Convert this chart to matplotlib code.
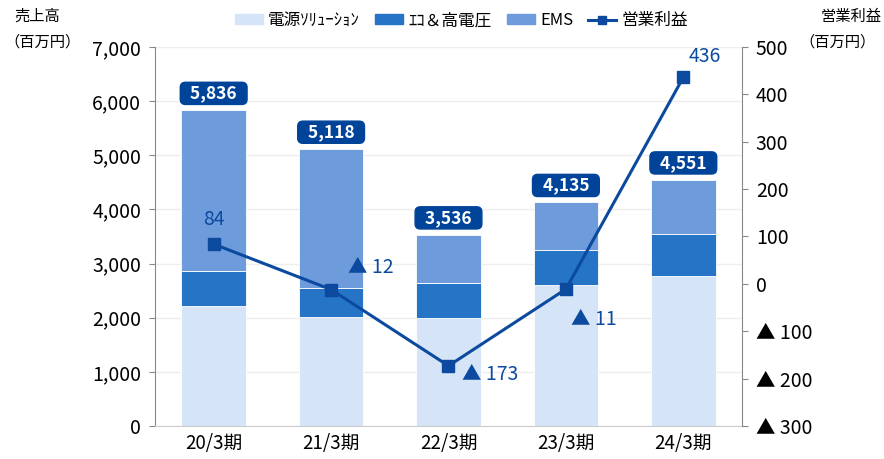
import matplotlib.pyplot as plt
from matplotlib.patches import Patch
from matplotlib.lines import Line2D
from matplotlib.ticker import FuncFormatter, MultipleLocator
import numpy as np

plt.rcParams['font.family'] = ['Noto Sans CJK JP', 'DejaVu Sans']

periods = ["20/3期", "21/3期", "22/3期", "23/3期", "24/3期"]
power = [2210, 2010, 2000, 2600, 2770]      # 電源ソリューション
eco = [650, 540, 640, 650, 780]             # エコ&高電圧
totals = [5836, 5118, 3536, 4135, 4551]
ems = [t - p - e for t, p, e in zip(totals, power, eco)]
profit = [84, -12, -173, -11, 436]

c_power = "#D5E4F6"
c_eco = "#2674C6"
c_ems = "#6D9BDC"
c_line = "#0B4A9E"
c_box = "#00449A"

fig = plt.figure(figsize=(8.84, 4.59), dpi=100)
ax = fig.add_axes([0.1753, 0.0719, 0.6641, 0.8257])
ax2 = ax.twinx()

x = np.arange(len(periods))
w = 0.55
ax.bar(x, power, w, color=c_power, edgecolor="white", linewidth=0.6, zorder=2)
ax.bar(x, eco, w, bottom=power, color=c_eco, edgecolor="white", linewidth=0.6, zorder=2)
bott = [p + e for p, e in zip(power, eco)]
ax.bar(x, ems, w, bottom=bott, color=c_ems, edgecolor="white", linewidth=0.6, zorder=2)

ax.set_xlim(-0.5, len(periods) - 0.5)
ax.set_ylim(0, 7000)
ax.yaxis.set_major_locator(MultipleLocator(1000))
ax.yaxis.set_major_formatter(FuncFormatter(lambda v, p: f"{int(v):,}"))
ax.grid(axis="y", color="#EEEEEE", linewidth=1, zorder=0)
ax.set_axisbelow(True)
ax.set_xticks(x)
ax.set_xticklabels(periods, fontsize=13.5)
ax.tick_params(axis="x", length=0, pad=5)
ax.tick_params(axis="y", labelsize=14, length=4, color="#888888", pad=6)
for s in ["top", "right"]:
    ax.spines[s].set_visible(False)
ax.spines["left"].set_color("#888888")
ax.spines["bottom"].set_color("#CCCCCC")

# total labels
for xi, t in zip(x, totals):
    ax.annotate(f"  {t:,}  ", (xi, t), xytext=(0, 12), textcoords="offset points",
                ha="center", va="center", color="white", fontsize=12.5, fontweight="bold",
                bbox=dict(boxstyle="round,pad=0.12,rounding_size=0.3", fc=c_box, ec=c_box),
                zorder=5)

# profit line
ax2.plot(x, profit, color=c_line, linewidth=2.2, marker="s", markersize=8, zorder=4)
ax2.set_ylim(-300, 500)
ax2.yaxis.set_major_locator(MultipleLocator(100))
ax2.yaxis.set_major_formatter(FuncFormatter(lambda v, p: f"▲ {abs(int(v))}" if v < 0 else f"{int(v)}"))
ax2.tick_params(axis="y", labelsize=14, length=4, color="#888888", pad=6)
for s in ["top", "left", "bottom"]:
    ax2.spines[s].set_visible(False)
ax2.spines["right"].set_color("#888888")

offsets = [(0, 18, "center"), (12, 16, "left"), (10, -6, "left"), (20, -22, "center"), (4, 15, "left")]
for xi, v, (dx, dy, ha) in zip(x, profit, offsets):
    lab = f"▲ {abs(v)}" if v < 0 else f"{v}"
    ax2.annotate(lab, (xi, v), xytext=(dx, dy), textcoords="offset points",
                 ha=ha, va="center", color=c_line, fontsize=14, zorder=6)

fig.text(0.016, 0.965, "売上高", fontsize=11, ha="left", va="center")
fig.text(0.005, 0.908, "（百万円）", fontsize=11, ha="left", va="center")
fig.text(0.928, 0.965, "営業利益", fontsize=11, ha="left", va="center")
fig.text(0.990, 0.908, "（百万円）", fontsize=11, ha="right", va="center")

handles = [Patch(color=c_power), Patch(color=c_eco), Patch(color=c_ems),
           Line2D([0], [0], color=c_line, lw=2.2, marker="s", markersize=6)]
labels = ["電源ｿﾘｭｰｼｮﾝ", "ｴｺ＆高電圧", "EMS", "営業利益"]
fig.legend(handles, labels, loc="center", bbox_to_anchor=(0.522, 0.955), ncol=4,
           frameon=False, fontsize=12, handlelength=1.7, handleheight=0.5,
           columnspacing=0.9, handletextpad=0.3)

fig.savefig("out.png", dpi=100)
